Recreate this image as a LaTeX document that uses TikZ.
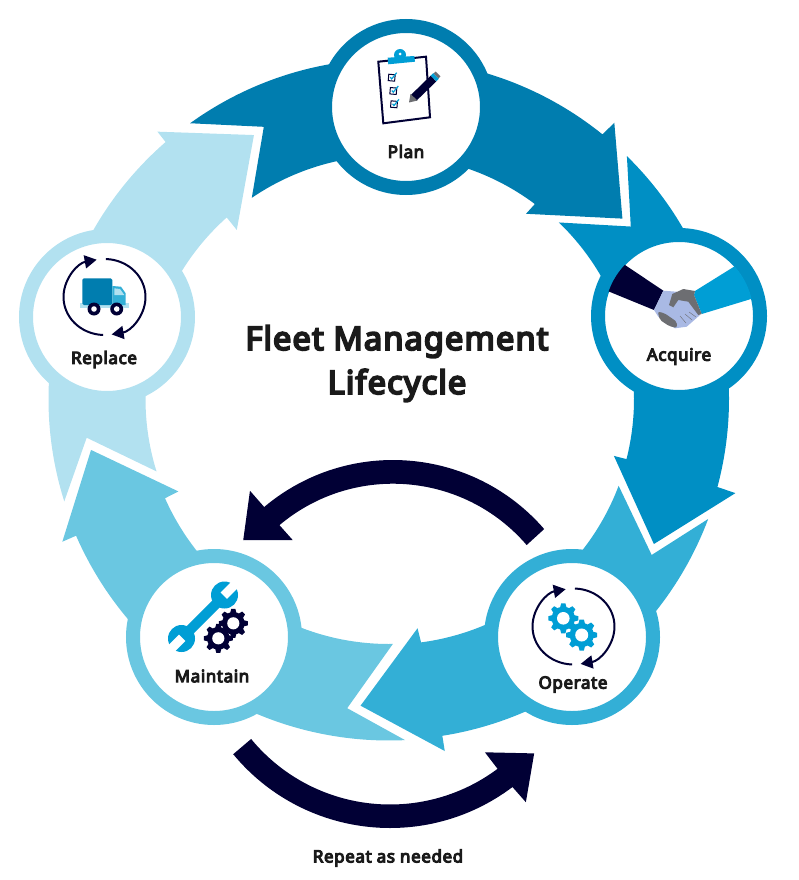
\documentclass[tikz,border=0pt]{standalone}
\usepackage{fontspec}
\setmainfont{Noto Sans}[BoldFont={Noto Sans},BoldFeatures={FakeBold=6,LetterSpace=3.5}]
\usetikzlibrary{arrows.meta}
\definecolor{plancolor}{RGB}{0,125,175}
\definecolor{acquirecolor}{RGB}{0,143,196}
\definecolor{operatecolor}{RGB}{51,175,214}
\definecolor{maintaincolor}{RGB}{106,199,225}
\definecolor{replacecolor}{RGB}{178,225,240}
\definecolor{navycolor}{RGB}{1,0,53}
\definecolor{iconblue}{RGB}{0,158,213}
\definecolor{handcolor}{RGB}{169,185,228}
\definecolor{greycolor}{RGB}{109,110,114}
\definecolor{textcolor}{RGB}{26,26,26}
\newcommand{\gearicon}[4]{%
  \fill[#4] (#1,#2) circle[radius=#3*0.78];
  \foreach \a in {0,45,...,315}
    \fill[#4, shift={(#1,#2)}, rotate=\a] (#3*0.7,-#3*0.22) -- (#3,-#3*0.14) -- (#3,#3*0.14) -- (#3*0.7,#3*0.22) -- cycle;
  \fill[white] (#1,#2) circle[radius=#3*0.42];
}
\newcommand{\cycleicon}[2]{%
  \draw[cyclearrow, shift={(#1,#2)}] (-88:41 and 38) arc[start angle=-88, end angle=80, x radius=41, y radius=38];
  \draw[cyclearrow, shift={(#1,#2)}] (92:41 and 38) arc[start angle=92, end angle=259, x radius=41, y radius=38];
}
\newcommand{\wrenchhead}[3]{%
  \fill[iconblue] (#1,#2) circle[radius=13.5];
  \fill[white, rotate around={#3:(#1,#2)}] (#1-1,#2-4.5) rectangle (#1+16,#2+4.5);
}
\begin{document}
\begin{tikzpicture}[
    x=1pt, y=-1pt,
    stage/.style={circle, draw, fill=white, line width=14pt, minimum size=162pt, inner sep=0pt},
    stagetext/.style={text=textcolor, font=\fontsize{17}{20}\selectfont\bfseries},
    titletext/.style={text=textcolor, align=center, font=\fontsize{32.5}{44}\selectfont\bfseries},
    cyclearrow/.style={navycolor, line width=2pt, -{Triangle[length=12pt,width=13pt]}}
]
\useasboundingbox (0,0) rectangle (798,880);

\begin{scope}[shift={(389,399)}]
\fill[plancolor] (-125.8:340) arc[start angle=-125.8, end angle=-51.1, radius=340] -- (-50.8:356.5) -- (-37.7:295) -- (-53.5:230.4) -- (-53.2:243.5) arc[start angle=-53.2, end angle=-124.3, radius=243.5] -- (-114.7:299.6) -- cycle;
\fill[acquirecolor] (-45.6:340) arc[start angle=-45.6, end angle=15, radius=340] -- (15.2:359) -- (28.7:302) -- (14.2:232) -- (14.2:245) arc[start angle=14.2, end angle=-46.1, radius=245] -- (-35.5:297) -- cycle;
\fill[operatecolor] (20.6:341) arc[start angle=20.6, end angle=81, radius=341] -- (81:356.4) -- (95.3:308) -- (82.9:231) -- (82.5:245.5) arc[start angle=82.5, end angle=20.7, radius=245.5] -- (30.7:305.5) -- cycle;
\fill[maintaincolor] (87.3:341.5) arc[start angle=87.3, end angle=156.4, radius=341.5] -- (156.4:356.5) -- (170.3:302.3) -- (156.3:230) -- (156.1:245) arc[start angle=156.1, end angle=89.1, radius=245] -- (97.7:312) -- cycle;
\fill[replacecolor] (162.5:340.5) arc[start angle=162.5, end angle=229, radius=340.5] -- (229.1:353.7) -- (242.9:296.5) -- (228:227.5) -- (228.2:243.5) arc[start angle=228.2, end angle=162.7, radius=243.5] -- (172.7:304.8) -- cycle;
\end{scope}

\begin{scope}[shift={(393,660)}]
\fill[navycolor] (-40.9:200) arc[start angle=-40.9, end angle=-130.1, radius=200] -- (-130.2:221.6) -- (-141.3:191.9) -- (-129.9:156.4) -- (-130.1:176.3) arc[start angle=-130.1, end angle=-40.7, radius=176.3] -- cycle;
\end{scope}
\begin{scope}[shift={(390,624.5)}]
\fill[navycolor] (140.4:203.5) arc[start angle=140.4, end angle=53, radius=203.5] -- (52.6:223.7) -- (41.8:193.4) -- (53.4:159.2) -- (53.3:180) arc[start angle=53.3, end angle=140.5, radius=180] -- cycle;
\end{scope}

\node[stage, draw=plancolor] (plan) at (406,107) {};
\node[stage, draw=acquirecolor] (acquire) at (679,316) {};
\node[stage, draw=operatecolor] (operate) at (572,637) {};
\node[stage, draw=maintaincolor] (maintain) at (214,637) {};
\node[stage, draw=replacecolor] (replace) at (107,317) {};

\node[stagetext] (plantext) at (406,151.5) {Plan};
\node[stagetext] (acquiretext) at (679,356.5) {Acquire};
\node[stagetext] (operatetext) at (573,684.5) {Operate};
\node[stagetext] (maintaintext) at (212,676) {Maintain};
\node[stagetext] (replacetext) at (104,359.5) {Replace};
\node[stagetext] (repeattext) at (388,858) {Repeat as needed};
\node[titletext] (title) at (397,363.5) {Fleet Management\\Lifecycle};

\draw[navycolor, line width=2pt, fill=white] (378.3,61.7) -- (426,56.7) -- (430,117.3) -- (383.3,123.3) -- cycle;
\fill[iconblue] (400,55) circle[radius=6];
\fill[white] (400,54) circle[radius=1.5];
\fill[iconblue] (387.7,57.7) -- (414.3,56) -- (415,61.7) -- (388.3,64.3) -- cycle;
\foreach \x/\y in {391.7/77.7, 393.3/91, 394/104.3} {
  \draw[navycolor, line width=1pt, rotate around={-5:(\x,\y)}] (\x-3.2,\y-3.2) rectangle (\x+3.2,\y+3.2);
  \draw[iconblue, line width=1.2pt] (\x-1.5,\y-0.5) -- (\x,\y+1.2) -- (\x+5,\y-5);
}
\draw[navycolor, line width=8pt] (413.5,98) -- (433.5,78.5);
\draw[iconblue, line width=8pt] (433.5,78.5) -- (436,76);
\draw[greycolor, line width=7pt] (436,76) -- (438,74);
\fill[greycolor] (409,102.5) -- (410.5,94) -- (417.5,100.5) -- cycle;

\begin{scope}
\clip (679,316) circle[radius=74.5];
\fill[navycolor] (625,265) -- (663.3,290.7) -- (654,310) -- (609.3,291.7) -- (590,285) -- (605,250) -- cycle;
\fill[iconblue] (734,266.7) -- (760,255) -- (770,293) -- (751,299) -- (701.7,314) -- (694,295) -- (695,291) -- cycle;
\end{scope}
\fill[handcolor] (663.3,290.7) -- (676.7,291.7) -- (690,298) -- (700,315) -- (686.7,326.7) -- (675,328.3) -- (658.3,316.7) -- (654,310) -- cycle;
\fill[greycolor] (695,291) -- (683.3,289) -- (672.3,294) -- (669,305) -- (673.3,307.3) -- (678.3,300) -- (688.3,301.7) -- (698.3,315) -- (701.7,314) -- (694,295) -- cycle;
\fill[greycolor, rounded corners=2pt] (657.7,311.7) -- (664,313) -- (670,317) -- (677,322) -- (676.7,328) -- (669,326) -- (660,320) -- cycle;
\draw[greycolor, line width=0.4pt] (680,316) -- (686,323) (685,314) -- (692,320) (689,312) -- (696,317);

\cycleicon{573.5}{626.5}
\gearicon{563.3}{618.3}{15}{iconblue}
\gearicon{581.7}{635}{15.5}{iconblue}

\wrenchhead{224.5}{595}{45}
\wrenchhead{181.5}{638.5}{225}
\draw[iconblue, line width=10pt] (187,633) -- (219,601);
\gearicon{218.3}{638.3}{14.5}{navycolor}
\gearicon{233.3}{623.3}{14.5}{navycolor}

\cycleicon{104.5}{297}
\fill[replacecolor] (80,303.3) rectangle (129,307.7);
\fill[plancolor, rounded corners=1.5pt] (82.3,278.3) rectangle (112.3,305);
\fill[operatecolor] (112.3,286) -- (121,286.7) -- (125.7,293.3) -- (125.7,305) -- (112.3,305) -- cycle;
\fill[replacecolor] (114.3,288.3) -- (120,289) -- (124.3,295) -- (114.3,295) -- cycle;
\foreach \x in {94,116.7} {
  \fill[navycolor] (\x,309) circle[radius=6.5];
  \fill[white] (\x,309) circle[radius=2.8];
}
\end{tikzpicture}
\end{document}
